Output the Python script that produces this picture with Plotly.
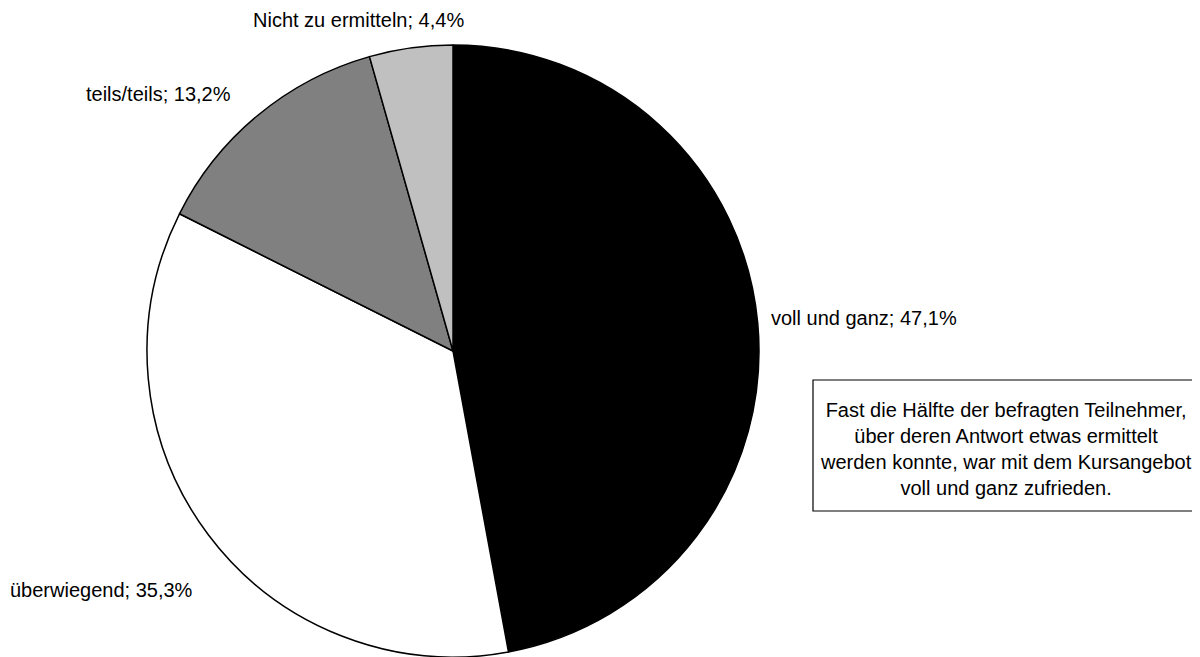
import plotly.graph_objects as go

W, H = 1200, 657
OFF = 8  # page body margin shifts the figure by this much

categories = ["voll und ganz", "überwiegend", "teils/teils", "Nicht zu ermitteln"]
shares = [47.1, 35.3, 13.2, 4.4]
slice_colors = ["#000000", "#ffffff", "#808080", "#c0c0c0"]

note_lines = [
    "Fast die Hälfte der befragten Teilnehmer,",
    "über deren Antwort etwas ermittelt",
    "werden konnte, war mit dem Kursangebot",
    "voll und ganz zufrieden.",
]

# label anchor points (pixel positions in the picture), one per category
label_pos = {
    "voll und ganz": (769, 318, "left"),
    "überwiegend": (8, 590, "left"),
    "teils/teils": (84, 94, "left"),
    "Nicht zu ermitteln": (358, 20, "center"),
}


def px(x, y):
    return (x - OFF) / W, 1 - (y - OFF) / H


def fmt(v):
    return f"{v:.1f}".replace(".", ",") + "%"


cx, cy, r = 453 - OFF, 351 - OFF, 306
fig = go.Figure(
    go.Pie(
        labels=categories,
        values=shares,
        sort=False,
        direction="clockwise",
        rotation=0,
        marker=dict(colors=slice_colors, line=dict(color="#000000", width=1.5)),
        textinfo="none",
        hoverinfo="label+percent",
        showlegend=False,
        domain=dict(x=[(cx - r) / W, (cx + r) / W], y=[1 - (cy + r) / H, 1 - (cy - r) / H]),
    )
)

font = dict(family="Liberation Sans, Arial, sans-serif", size=20, color="#000000")

for cat, val in zip(categories, shares):
    x, y, anchor = label_pos[cat]
    ax, ay = px(x, y)
    fig.add_annotation(
        x=ax, y=ay, xref="paper", yref="paper",
        text=f"{cat}; {fmt(val)}", showarrow=False,
        xanchor=anchor, yanchor="middle", font=font,
    )

x0, y0 = px(813, 380)
x1, y1 = px(1230, 511)
fig.add_shape(
    type="rect", xref="paper", yref="paper",
    x0=x0, y0=y1, x1=x1, y1=y0,
    line=dict(color="#000000", width=1.2), fillcolor="rgba(0,0,0,0)",
)
tx, ty = px(1006, 449)
fig.add_annotation(
    x=tx, y=ty, xref="paper", yref="paper",
    text="<br>".join(note_lines), showarrow=False, align="center",
    xanchor="center", yanchor="middle", font=font,
)

fig.update_layout(
    width=W, height=H,
    margin=dict(l=0, r=0, t=0, b=0),
    paper_bgcolor="#ffffff", plot_bgcolor="#ffffff",
)

fig.write_html("out.html")
